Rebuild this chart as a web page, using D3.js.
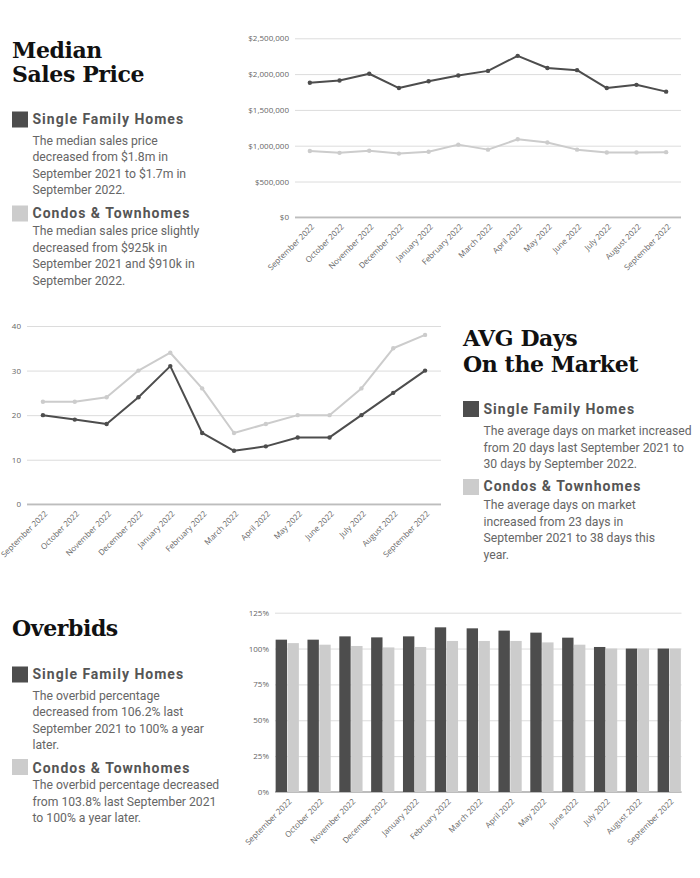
<!DOCTYPE html>
<html>
<head>
<meta charset="utf-8">
<script src="https://cdn.jsdelivr.net/npm/d3@7"></script>
<style>
  body { margin: 0; background: #fff; }
  .head { font-family: "DejaVu Serif", serif; font-weight: bold; fill: #111; letter-spacing: -0.4px; }
  .legtitle { font-family: Roboto, sans-serif; font-weight: bold; fill: #555; letter-spacing: 1px; }
  .body { font-family: Roboto, sans-serif; fill: #666; }
  .tick text { font-family: "Open Sans", sans-serif; fill: #666; }
</style>
</head>
<body>
<div id="page"></div>
<script>
// DATA
var months = ["September 2022", "October 2022", "November 2022", "December 2022", "January 2022",
  "February 2022", "March 2022", "April 2022", "May 2022", "June 2022", "July 2022",
  "August 2022", "September 2022"];

var priceSingle = [1880000, 1910000, 2005000, 1805000, 1900000, 1980000, 2045000, 2255000, 2085000, 2055000, 1805000, 1850000, 1755000];
var priceCondo = [925000, 900000, 930000, 890000, 915000, 1015000, 945000, 1090000, 1045000, 945000, 905000, 905000, 910000];
var priceTicks = [0, 500000, 1000000, 1500000, 2000000, 2500000];

var daysSingle = [20, 19, 18, 24, 31, 16, 12, 13, 15, 15, 20, 25, 30];
var daysCondo = [23, 23, 24, 30, 34, 26, 16, 18, 20, 20, 26, 35, 38];
var daysTicks = [0, 10, 20, 30, 40];

var overbidSingle = [1.062, 1.062, 1.085, 1.078, 1.085, 1.148, 1.141, 1.125, 1.111, 1.076, 1.011, 1.0, 1.0];
var overbidCondo = [1.038, 1.027, 1.018, 1.008, 1.011, 1.053, 1.053, 1.053, 1.043, 1.027, 1.0, 1.0, 1.0];
var overbidTicks = [0, 0.25, 0.5, 0.75, 1, 1.25];

var seriesNames = ["Single Family Homes", "Condos & Townhomes"];
var darkColor = "#4d4d4d", lightColor = "#cccccc";

var svg = d3.select("#page").append("svg")
    .attr("width", 700)
    .attr("height", 878);

var idx = months.map(function(d, i) { return i; });

// text blocks: heading + two legend entries
function textBlock(x, headLines, headY, entries) {
  headLines.forEach(function(t, i) {
    svg.append("text").attr("class", "head")
      .attr("x", x).attr("y", headY[i])
      .style("font-size", "22px")
      .text(t);
  });
  entries.forEach(function(e, k) {
    svg.append("rect")
      .attr("x", x).attr("y", e.sy)
      .attr("width", 16).attr("height", 16)
      .style("fill", k == 0 ? darkColor : lightColor);
    svg.append("text").attr("class", "legtitle")
      .attr("x", x + 20.5).attr("y", e.ty)
      .style("font-size", "14px")
      .text(seriesNames[k]);
    e.lines.forEach(function(l, j) {
      svg.append("text").attr("class", "body")
        .attr("x", x + 20.5).attr("y", e.by + j * 16.5)
        .style("font-size", "12.2px")
        .text(l);
    });
  });
}

textBlock(12, ["Median", "Sales Price"], [58, 82], [
  {sy: 111.5, ty: 124, by: 144.5, lines: ["The median sales price", "decreased from $1.8m in", "September 2021 to $1.7m in", "September 2022."]},
  {sy: 205.5, ty: 217.5, by: 235, lines: ["The median sales price slightly", "decreased from $925k in", "September 2021 and $910k in", "September 2022."]}
]);

textBlock(463, ["AVG Days", "On the Market"], [346, 371.5], [
  {sy: 401, ty: 413.5, by: 435, lines: ["The average days on market increased", "from 20 days last September 2021 to", "30 days by September 2022."]},
  {sy: 479, ty: 491, by: 509, lines: ["The average days on market", "increased from 23 days in", "September 2021 to 38 days this", "year."]}
]);

textBlock(12, ["Overbids"], [635.5], [
  {sy: 666.5, ty: 679, by: 699.5, lines: ["The overbid percentage", "decreased from 106.2% last", "September 2021 to 100% a year", "later."]},
  {sy: 759, ty: 772.5, by: 789, lines: ["The overbid percentage decreased", "from 103.8% last September 2021", "to 100% a year later."]}
]);

// shared axis drawing
function drawGrid(y, ticks, fmt, x0, x1) {
  var g = svg.append("g")
    .attr("transform", "translate(" + x0 + ",0)")
    .call(d3.axisLeft(y).tickValues(ticks).tickSize(-(x1 - x0)).tickPadding(6).tickFormat(fmt));
  g.select(".domain").remove();
  g.selectAll(".tick line").style("stroke", "#dcdcdc").style("stroke-width", 1);
  g.selectAll(".tick text").style("font-size", "8px");
  svg.append("line")
    .attr("x1", x0).attr("x2", x1)
    .attr("y1", y(0)).attr("y2", y(0))
    .style("stroke", "#bdbdbd").style("stroke-width", 1.8);
}

function drawXLabels(x, yPos, shift) {
  var g = svg.append("g")
    .attr("transform", "translate(0," + yPos + ")")
    .call(d3.axisBottom(x).tickSize(0).tickFormat(function(i) { return months[i]; }));
  g.select(".domain").remove();
  g.selectAll(".tick text")
    .style("font-size", "8px")
    .style("text-anchor", "end")
    .attr("dy", null)
    .attr("y", 0)
    .attr("transform", "translate(" + shift + ",10) rotate(-45)");
}

function drawLine(x, y, values, color) {
  var line = d3.line()
    .x(function(d, i) { return x(i); })
    .y(function(d) { return y(d); });
  svg.append("path")
    .datum(values)
    .attr("d", line)
    .style("fill", "none")
    .style("stroke", color)
    .style("stroke-width", 2)
    .style("stroke-linejoin", "round");
  svg.selectAll(null)
    .data(values)
    .enter().append("circle")
    .attr("cx", function(d, i) { return x(i); })
    .attr("cy", function(d) { return y(d); })
    .attr("r", 2.2)
    .style("fill", color);
}

// CHART 1: median sales price
var x1 = d3.scalePoint().domain(idx).range([295, 681]).padding(0.5);
var y1 = d3.scaleLinear().domain([0, 2500000]).range([217.3, 38.3]);
drawGrid(y1, priceTicks, function(d) { return "$" + d3.format(",")(d); }, 295, 681);
drawLine(x1, y1, priceCondo, lightColor);
drawLine(x1, y1, priceSingle, darkColor);
drawXLabels(x1, y1(0), 4.5);

// CHART 2: average days on market
var x2 = d3.scalePoint().domain(idx).range([27, 441]).padding(0.5);
var y2 = d3.scaleLinear().domain([0, 40]).range([504.3, 326]);
drawGrid(y2, daysTicks, d3.format("d"), 27, 441);
drawLine(x2, y2, daysCondo, lightColor);
drawLine(x2, y2, daysSingle, darkColor);
drawXLabels(x2, y2(0), 4.5);

// CHART 3: overbids
var x3 = d3.scaleBand().domain(idx).range([275, 681.5]).paddingInner(0.27).paddingOuter(0.02);
var xs = d3.scaleBand().domain([0, 1]).range([0, x3.bandwidth()]).paddingInner(0.04);
var y3 = d3.scaleLinear().domain([0, 1.25]).range([792, 612.7]);
drawGrid(y3, overbidTicks, d3.format(".0%"), 275, 681.5);

var groups = svg.selectAll(".grp")
  .data(idx)
  .enter().append("g")
  .attr("class", "grp")
  .attr("transform", function(i) { return "translate(" + x3(i) + ",0)"; });
groups.selectAll("rect")
  .data(function(i) { return [overbidSingle[i], overbidCondo[i]]; })
  .enter().append("rect")
  .attr("x", function(d, k) { return xs(k); })
  .attr("width", xs.bandwidth())
  .attr("y", function(d) { return y3(d); })
  .attr("height", function(d) { return y3(0) - y3(d); })
  .style("fill", function(d, k) { return k == 0 ? darkColor : lightColor; });

var xc = d3.scalePoint().domain(idx).range([x3(0) + x3.bandwidth() / 2, x3(12) + x3.bandwidth() / 2]);
drawXLabels(xc, y3(0), 4.5);
</script>
</body>
</html>
